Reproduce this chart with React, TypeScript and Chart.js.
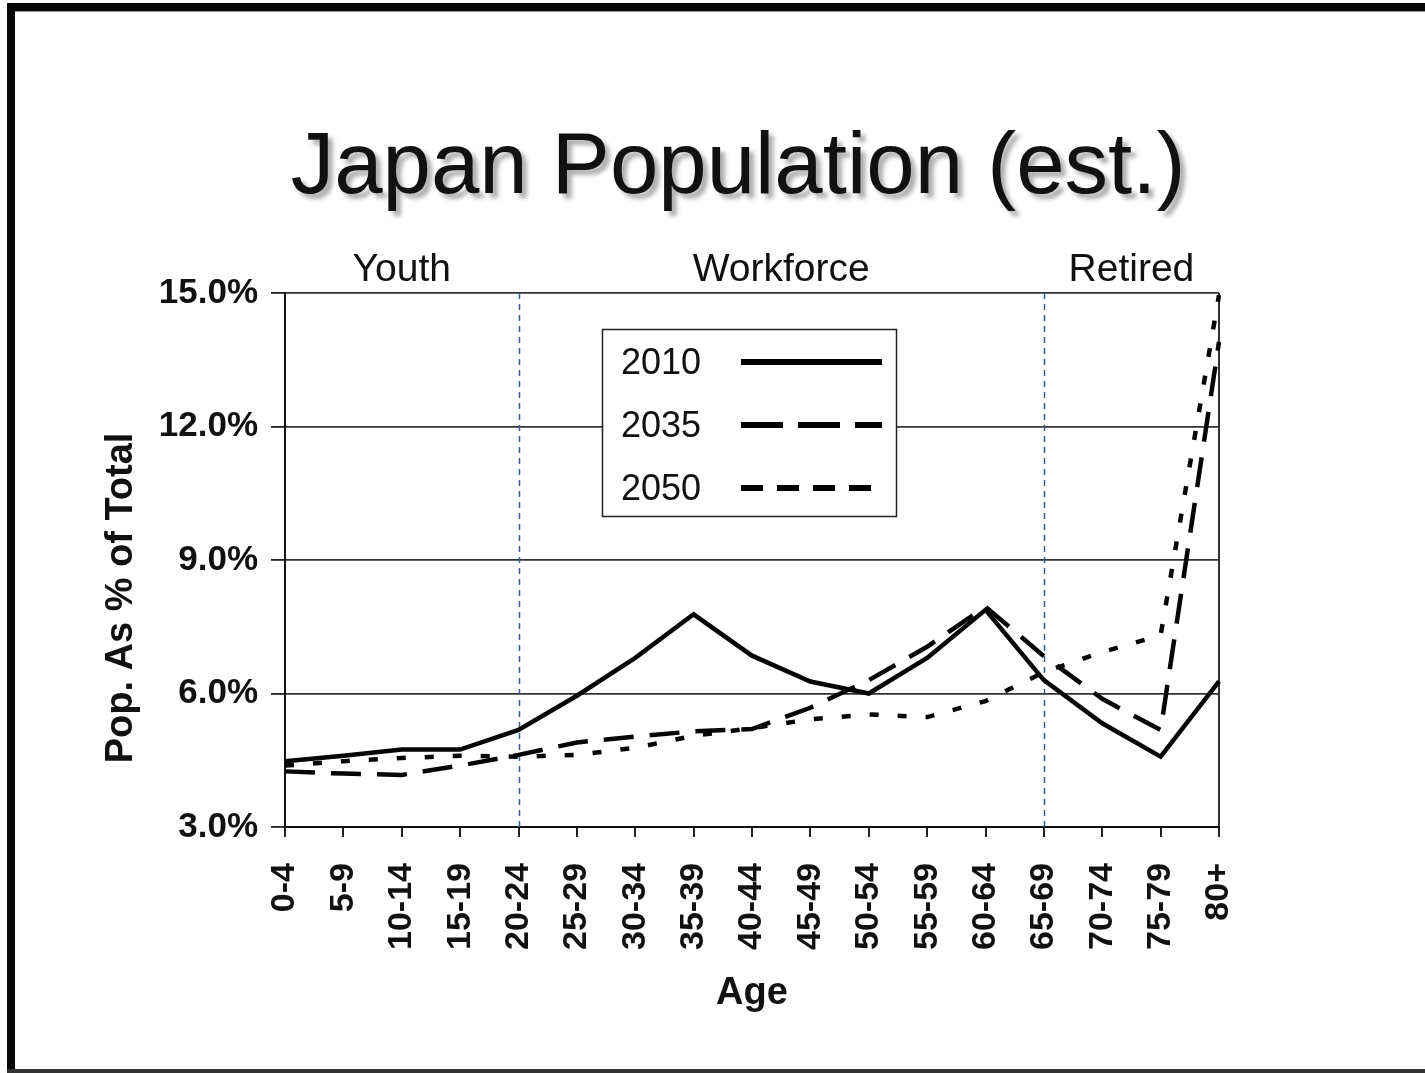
import React, { useEffect, useRef } from "react";
import { Chart, registerables } from "chart.js";

Chart.register(...registerables);

const ageGroups = ["0-4", "5-9", "10-14", "15-19", "20-24", "25-29", "30-34", "35-39", "40-44", "45-49", "50-54", "55-59", "60-64", "65-69", "70-74", "75-79", "80+"];
const pop2010 = [4.48, 4.6, 4.74, 4.74, 5.18, 5.95, 6.8, 7.78, 6.85, 6.27, 6.0, 6.8, 7.88, 6.3, 5.33, 4.58, 6.27];
const pop2035 = [4.25, 4.2, 4.17, 4.38, 4.62, 4.9, 5.03, 5.15, 5.2, 5.68, 6.3, 7.05, 7.95, 6.84, 5.88, 5.18, 13.9];
const pop2050 = [4.38, 4.48, 4.55, 4.6, 4.58, 4.62, 4.78, 5.05, 5.22, 5.42, 5.53, 5.47, 5.83, 6.48, 6.93, 7.31, 14.95];
const seriesNames = ["2010", "2035", "2050"];
const yTicks = [3, 6, 9, 12, 15];
const sections = [
  { name: "Youth", from: "0-4", to: "20-24" },
  { name: "Workforce", from: "20-24", to: "65-69" },
  { name: "Retired", from: "65-69", to: "80+" },
];
const dividers = ["20-24", "65-69"];
const yAxisTitle = "Pop. As % of Total";
const chartTitle = "Japan Population (est.)";

const FONT = '"Liberation Sans", Arial, Helvetica, sans-serif';

const decorPlugin = {
  id: "decor",
  beforeDraw(chart: any) {
    const { ctx, width, height } = chart;
    ctx.save();
    ctx.fillStyle = "#fff";
    ctx.fillRect(0, 0, width, height);
    ctx.fillStyle = "#050807";
    ctx.fillRect(7, 3, width - 7, 8);
    ctx.fillRect(7, 3, 8, height - 3);
    ctx.fillStyle = "#333";
    ctx.fillRect(7, height - 4, width - 7, 4);
    ctx.fillStyle = "#999";
    ctx.fillRect(15, 11, width - 15, 1);
    ctx.restore();
  },
  beforeDatasetsDraw(chart: any) {
    const { ctx, chartArea } = chart;
    const xs = chart.scales.x;
    ctx.save();
    ctx.strokeStyle = "#3d5c8c";
    ctx.lineWidth = 1.5;
    ctx.setLineDash([6, 5]);
    dividers.forEach((d) => {
      const x = Math.round(xs.getPixelForValue(ageGroups.indexOf(d))) + 0.5;
      ctx.beginPath();
      ctx.moveTo(x, chartArea.top);
      ctx.lineTo(x, chartArea.bottom + 4);
      ctx.stroke();
    });
    ctx.restore();
  },
  afterDraw(chart: any) {
    const { ctx, chartArea } = chart;
    const xs = chart.scales.x;
    ctx.save();
    // Title with shadow
    ctx.font = `87px ${FONT}`;
    ctx.textAlign = "center";
    ctx.textBaseline = "alphabetic";
    ctx.shadowColor = "rgba(120,120,120,0.6)";
    ctx.shadowOffsetX = 5;
    ctx.shadowOffsetY = 5;
    ctx.shadowBlur = 4;
    ctx.fillStyle = "#111";
    ctx.fillText(chartTitle, 738, 193);
    ctx.shadowColor = "transparent";
    ctx.shadowOffsetX = 0;
    ctx.shadowOffsetY = 0;
    ctx.shadowBlur = 0;

    // Section labels
    ctx.font = `39px ${FONT}`;
    ctx.fillStyle = "#111";
    sections.forEach((s) => {
      const a = xs.getPixelForValue(ageGroups.indexOf(s.from));
      const b = xs.getPixelForValue(ageGroups.indexOf(s.to));
      ctx.fillText(s.name, (a + b) / 2, chartArea.top - 12);
    });

    // Y axis title
    ctx.save();
    ctx.translate(122, 598);
    ctx.rotate(-Math.PI / 2);
    ctx.font = `bold 38px ${FONT}`;
    ctx.textAlign = "center";
    ctx.textBaseline = "middle";
    ctx.fillStyle = "#111";
    ctx.fillText(yAxisTitle, 0, 0);
    ctx.restore();

    // Legend box
    const lx = 602, ly = 329, lw = 294, lh = 187;
    ctx.fillStyle = "#fff";
    ctx.fillRect(lx, ly, lw, lh);
    ctx.strokeStyle = "#222";
    ctx.lineWidth = 1.5;
    ctx.strokeRect(lx + 0.5, ly + 0.5, lw, lh);
    const rows = [
      { y: 362, dash: [] as number[], end: 882 },
      { y: 425, dash: [42, 15], end: 882 },
      { y: 488, dash: [22, 14], end: 872 },
    ];
    ctx.font = `36px ${FONT}`;
    ctx.textAlign = "left";
    ctx.textBaseline = "middle";
    chart.data.datasets.forEach((ds: any, i: number) => {
      const r = rows[i];
      ctx.fillStyle = "#111";
      ctx.fillText(ds.label, 621, r.y + 2);
      ctx.strokeStyle = "#000";
      ctx.lineWidth = 6;
      ctx.setLineDash(r.dash);
      ctx.beginPath();
      ctx.moveTo(741, r.y);
      ctx.lineTo(r.end, r.y);
      ctx.stroke();
    });
    ctx.setLineDash([]);
    ctx.restore();
  },
};

export default function App() {
  const ref = useRef<HTMLCanvasElement | null>(null);
  useEffect(() => {
    if (!ref.current) return;
    const dashes = [[], [30, 16], [9, 19]];
    const values = [pop2010, pop2035, pop2050];
    const chart = new Chart(ref.current, {
      type: "line",
      data: {
        labels: ageGroups,
        datasets: seriesNames.map((n, i) => ({
          label: n,
          data: values[i],
          borderColor: "#050505",
          borderWidth: 4.5,
          borderDash: dashes[i],
          borderJoinStyle: "miter",
          borderCapStyle: "butt",
          pointRadius: 0,
          tension: 0,
          fill: false,
          clip: false,
        })) as any,
      },
      options: {
        animation: false,
        responsive: false,
        layout: { padding: { left: 0, right: 206, top: 293, bottom: 0 } },
        plugins: {
          legend: { display: false },
          tooltip: { enabled: false },
          title: { display: false },
        },
        scales: {
          x: {
            type: "category",
            offset: false,
            afterFit: (s: any) => { s.height = 246; },
            grid: {
              display: true,
              drawOnChartArea: true,
              color: (c: any) => (c.index === ageGroups.length - 1 ? "#333" : "transparent"),
              tickColor: "#222",
              lineWidth: 2,
              tickWidth: 2,
              tickLength: 10,
            },
            border: { display: true, color: "#111", width: 2 },
            ticks: {
              autoSkip: false,
              maxRotation: 90,
              minRotation: 90,
              padding: 26,
              color: "#111",
              font: { family: FONT, size: 34, weight: "bold" },
            },
            title: {
              display: true,
              text: "Age",
              color: "#111",
              font: { family: FONT, size: 38, weight: "bold" },
              padding: { top: 0, bottom: 57 },
            },
          },
          y: {
            min: 3,
            max: 15,
            afterFit: (s: any) => { s.width = 285; },
            afterBuildTicks: (s: any) => { s.ticks = yTicks.map((v) => ({ value: v })); },
            grid: {
              color: "#333",
              lineWidth: 1.8,
              tickColor: "#222",
              tickLength: 14,
              tickWidth: 1.8,
            },
            border: { display: true, color: "#111", width: 2 },
            ticks: {
              padding: 13,
              color: "#111",
              font: { family: FONT, size: 35, weight: "bold" },
              callback: (v: any) => Number(v).toFixed(1) + "%",
            },
          },
        },
      },
      plugins: [decorPlugin],
    });
    return () => chart.destroy();
  }, []);
  return (
    <div style={{ position: "absolute", left: 0, top: 0, width: 1425, height: 1073 }}>
      <canvas ref={ref} width={1425} height={1073} style={{ display: "block", width: 1425, height: 1073 }} />
    </div>
  );
}
